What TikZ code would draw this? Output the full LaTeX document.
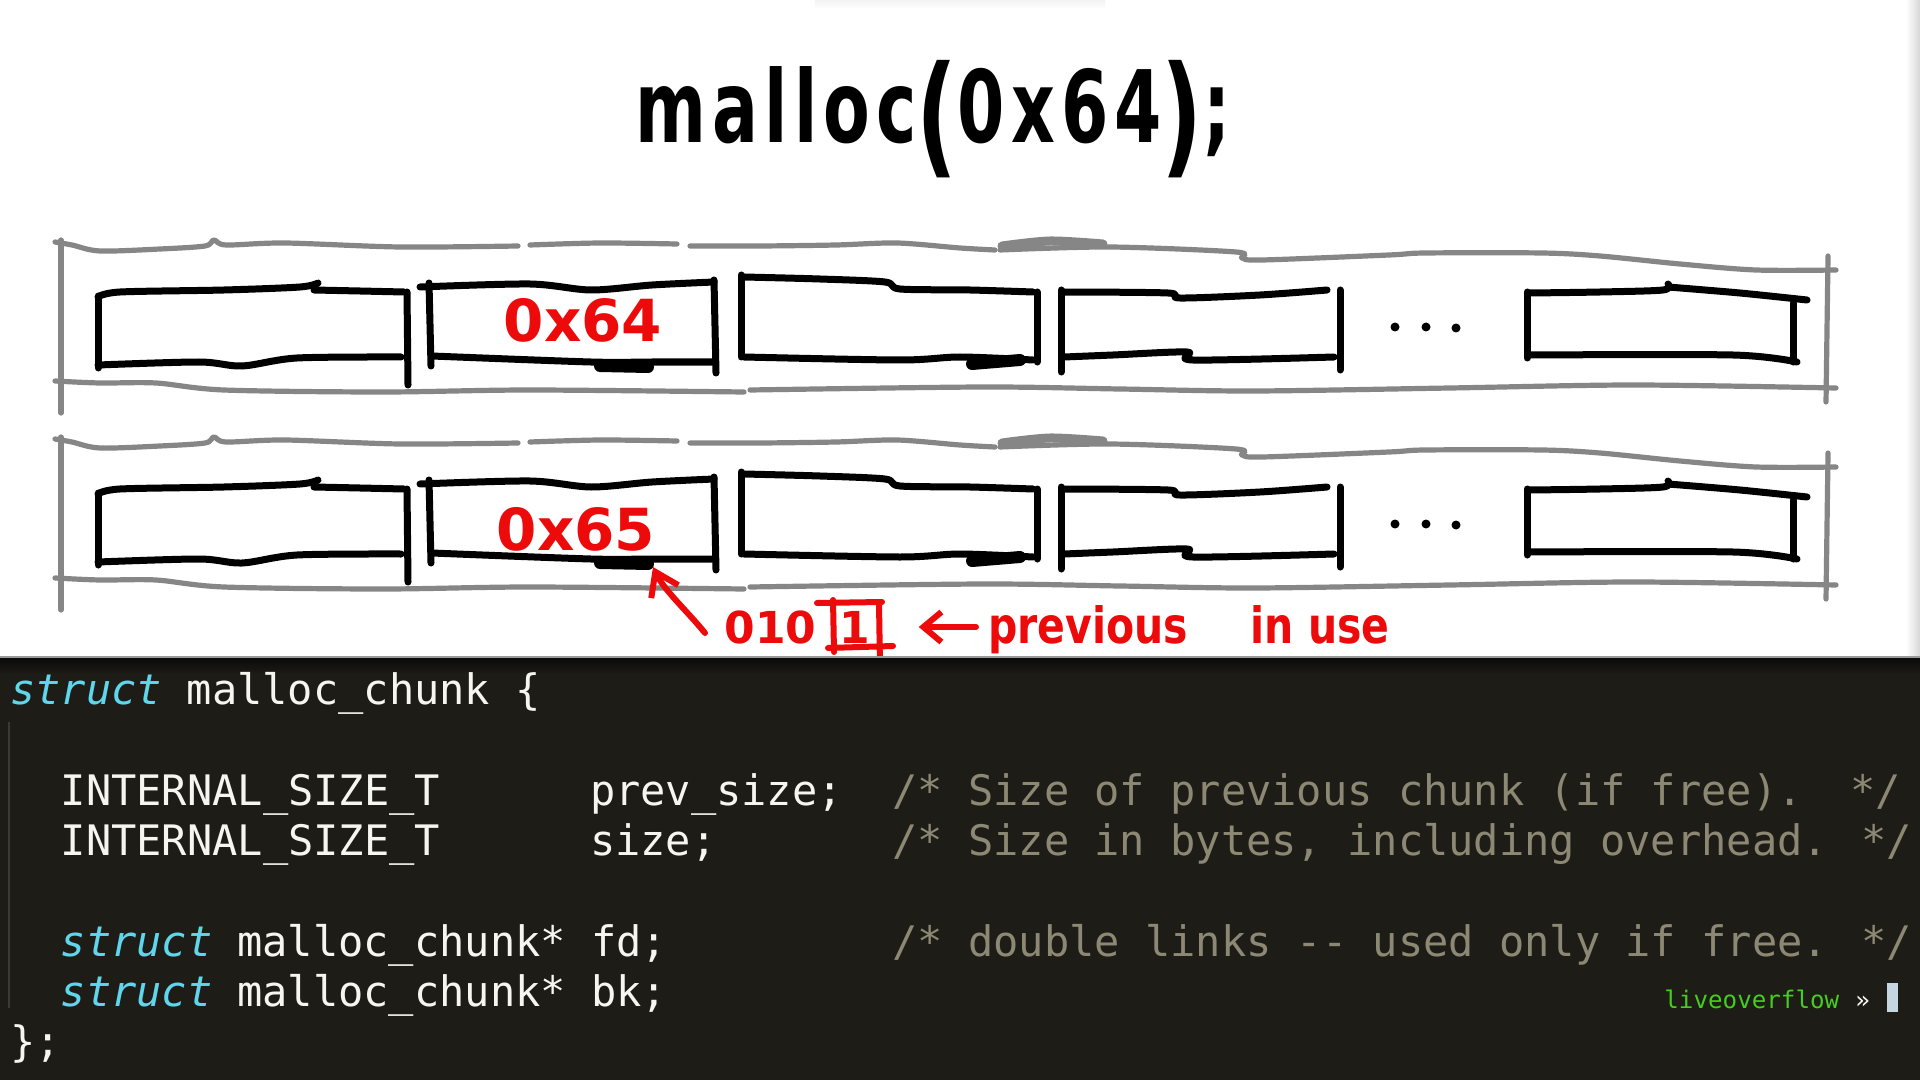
\documentclass[tikz,border=0pt]{standalone}
\usepackage{fontspec}
\usetikzlibrary{arrows.meta}

\newfontfamily\codefont{DejaVu Sans Mono}
\newfontfamily\handfont{DejaVu Sans}
\newfontfamily\handwide{DejaVu Sans}[LetterSpace=9]

\definecolor{markred}{RGB}{236,10,10}
\definecolor{framegray}{RGB}{134,134,134}
\definecolor{termbg}{RGB}{29,28,23}
\definecolor{termtop}{RGB}{10,10,9}
\definecolor{kw}{RGB}{96,214,236}
\definecolor{codefg}{RGB}{246,246,240}
\definecolor{cmt}{RGB}{140,136,115}
\definecolor{promptgreen}{RGB}{70,205,30}
\definecolor{cursorc}{RGB}{196,214,226}
\definecolor{guidec}{RGB}{58,57,50}

\tikzset{
  ink/.style={draw=black, line width=3.5pt, line cap=round, line join=round},
  inkblob/.style={draw=black, line width=6pt, line cap=round},
  framepen/.style={draw=framegray, line width=2.6pt, line cap=round, line join=round},
  redpen/.style={draw=markred, line width=3pt, line cap=round, line join=round},
  codetxt/.style={anchor=base west, inner sep=0pt, text=codefg,
    font=\codefont\fontsize{21pt}{25pt}\selectfont},
  kwtxt/.style={codetxt, text=kw, font=\codefont\itshape\fontsize{21pt}{25pt}\selectfont},
  cmttxt/.style={codetxt, text=cmt},
  handtxt/.style={inner sep=0pt, anchor=base, text=markred,
    font=\handfont\bfseries\fontsize{29pt}{30pt}\selectfont},
  smalltxt/.style={handtxt, font=\handfont\bfseries\fontsize{22pt}{22pt}\selectfont},
}

\newcommand{\tallparen}[1]{\raisebox{-9pt}{\fontsize{66pt}{66pt}\selectfont #1}}

% one row of heap slots inside its sketched gray band
\newcommand{\memrow}{%
  \draw[framepen] plot[smooth, tension=0.5] coordinates {(55,242) (72,245) (100,251) (160,249) (205,246) (214,240) (226,245) (285,243) (400,247) (518,246)};
  \draw[framepen] plot[smooth, tension=0.5] coordinates {(530,245) (600,243) (677,244)};
  \draw[framepen] plot[smooth, tension=0.5] coordinates {(690,246) (760,246) (836,245) (897,243) (960,248) (995,250)};
  \draw[framepen, line width=4.5pt] plot[smooth] coordinates {(1002,246) (1050,241) (1103,244)};
  \draw[framepen] plot[smooth, tension=0.5] coordinates {(1000,250) (1110,247) (1236,252) (1242,258) (1262,260) (1389,255) (1425,253) (1542,253) (1600,256) (1680,264) (1756,270) (1836,270)};
  \draw[framepen] (61,240) -- (61,413);
  \draw[framepen] (1828,256) -- (1826,402);
  \draw[framepen] plot[smooth, tension=0.5] coordinates {(55,381) (100,383) (156,383) (224,390) (383,392) (530,390) (744,392)};
  \draw[framepen] plot[smooth, tension=0.5] coordinates {(750,390) (983,387) (1120,389) (1254,391) (1450,388) (1634,385) (1836,388)};
  % slot 1
  \draw[ink] plot[smooth, tension=0.5] coordinates {(98,297) (120,292) (224,290) (300,287) (318,283)};
  \draw[ink] plot[smooth, tension=0.5] coordinates {(314,290) (360,291) (404,292)};
  \draw[ink] (98,296) -- (98,368);
  \draw[ink] plot[smooth, tension=0.5] coordinates {(98,365) (199,362) (242,366) (297,358) (401,357)};
  \draw[ink] (407,292) -- (408,385);
  % slot 2
  \draw[ink] (429,283) -- (431,366);
  \draw[ink] plot[smooth, tension=0.5] coordinates {(420,287) (530,284) (591,290) (652,285) (714,282)};
  \draw[ink] (714,280) -- (716,373);
  \draw[ink] plot[smooth, tension=0.5] coordinates {(432,356) (591,362) (652,362) (714,362)};
  \draw[inkblob] (600,366) -- (648,367);
  % slot 3
  \draw[ink] (741,275) -- (741,357);
  \draw[ink] plot[smooth, tension=0.5] coordinates {(744,277) (820,279) (885,282) (900,289) (970,290) (1033,292)};
  \draw[ink] (1037,292) -- (1037,362);
  \draw[ink] plot[smooth, tension=0.5] coordinates {(744,357) (900,360) (960,357) (1033,360)};
  \draw[inkblob] (972,364) -- (1020,360);
  % slot 4
  \draw[ink] (1061,290) -- (1061,372);
  \draw[ink] plot[smooth, tension=0.5] coordinates {(1064,292) (1168,293) (1180,298) (1260,295) (1327,290)};
  \draw[ink] (1340,290) -- (1340,370);
  \draw[ink] plot[smooth, tension=0.5] coordinates {(1064,357) (1113,355) (1187,352) (1193,360) (1334,357)};
  % ellipsis
  \fill (1395,327) circle[radius=4.5];
  \fill (1426,327) circle[radius=4.5];
  \fill (1456,328) circle[radius=4.5];
  % last slot
  \draw[ink] (1527,292) -- (1527,358);
  \draw[ink] plot[smooth, tension=0.5] coordinates {(1530,293) (1600,292) (1663,290) (1668,284)};
  \draw[ink] plot[smooth, tension=0.5] coordinates {(1668,287) (1740,293) (1807,300)};
  \draw[ink] (1793,303) -- (1793,362);
  \draw[ink] plot[smooth, tension=0.5] coordinates {(1530,355) (1733,355) (1797,362)};
}

\begin{document}
\begin{tikzpicture}[x=0.5pt, y=-0.5pt]
  \useasboundingbox (0,0) rectangle (1920,1080);
  \fill[white] (0,0) rectangle (1920,657);
  \shade[left color=white, right color=black!16] (1906,0) rectangle (1920,656);
  \shade[top color=black!5, bottom color=white] (815,0) rectangle (1105,9);

  % call
  \node[anchor=base, inner sep=0pt, font=\handwide\bfseries\fontsize{50pt}{50pt}\selectfont] (call) at (933,143)
    {\scalebox{0.68}[1]{malloc\tallparen{(}0x64\tallparen{)};}};

  % heap before and after
  \begin{scope}\memrow\end{scope}
  \begin{scope}[shift={(0,197)}]\memrow\end{scope}

  \node[handtxt] (size1) at (583,342) {0x64};
  \node[handtxt] (size2) at (576,550) {0x65};

  % size field bits
  \coordinate (pin) at (653,567);
  \node[smalltxt, anchor=base west] (bits) at (724,643) {010};
  \node[smalltxt] (lsb) at (855,643) {1};
  \draw[redpen] (833,600) -- (834,652);
  \draw[redpen] (817,603) -- (882,602);
  \draw[redpen] (879,603) -- (880,667);
  \draw[redpen] (828,648) -- (893,646);
  \node[handtxt, anchor=base west, font=\handfont\bfseries\fontsize{25pt}{26pt}\selectfont] (prevtxt) at (988,643)
    {\scalebox{0.82}[1]{previous\hspace{38pt}in use}};

  \draw[redpen, -{Straight Barb[length=11pt, width=15pt]}]
    ([xshift=-9.5pt, yshift=5pt]bits.base west) .. controls (688,612) and (664,590) .. (pin);
  \draw[redpen, -{Straight Barb[length=9pt, width=15pt]}]
    ([xshift=-6pt, yshift=8pt]prevtxt.base west) -- ([xshift=24pt, yshift=8pt]lsb.base east);

  % editor pane
  \fill[termbg] (0,657) rectangle (1920,1080);
  \shade[top color=termtop, bottom color=termbg] (0,658) rectangle (1920,674);
  \draw[black!40, line width=1pt] (0,657) -- (1920,657);
  \draw[guidec, line width=1pt] (9,722) -- (9,1008);

  \node[kwtxt] (kw0) at (10,704) {struct};
  \node[codetxt] (name0) at ({10+25.2*7},704) {malloc\_chunk \{};
  \node[codetxt] (t1) at ({10+25.2*2},805) {INTERNAL\_SIZE\_T};
  \node[codetxt] (f1) at ({10+25.2*23},805) {prev\_size;};
  \node[cmttxt] (c1) at ({10+25.2*35},805) {/* Size of previous chunk (if free).};
  \node[cmttxt] (c1e) at ({10+25.2*73},805) {*/};
  \node[codetxt] (t2) at ({10+25.2*2},855) {INTERNAL\_SIZE\_T};
  \node[codetxt] (f2) at ({10+25.2*23},855) {size;};
  \node[cmttxt] (c2) at ({10+25.2*35},855) {/* Size in bytes, including overhead. */};
  \node[kwtxt] (kw3) at ({10+25.2*2},956) {struct};
  \node[codetxt] (f3) at ({10+25.2*9},956) {malloc\_chunk* fd;};
  \node[cmttxt] (c3) at ({10+25.2*35},956) {/* double links -{}- used only if free. */};
  \node[kwtxt] (kw4) at ({10+25.2*2},1006) {struct};
  \node[codetxt] (f4) at ({10+25.2*9},1006) {malloc\_chunk* bk;};
  \node[codetxt] (close) at (10,1056) {\};};

  % shell prompt
  \node[anchor=base west, inner sep=0pt, text=promptgreen, font=\codefont\fontsize{12.1pt}{14pt}\selectfont] (user) at (1664,1008) {liveoverflow};
  \node[anchor=base west, inner sep=0pt, text=codefg!80, font=\codefont\fontsize{12.1pt}{14pt}\selectfont] (chev) at (1855,1008) {»};
  \fill[cursorc] (1887,983) rectangle (1898,1012);
\end{tikzpicture}
\end{document}
